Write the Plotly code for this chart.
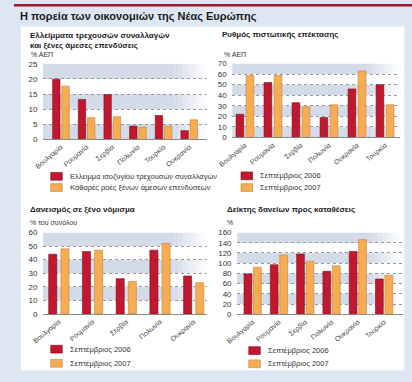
import plotly.graph_objects as go

# ---------------- data ----------------
tl_countries = ["Βουλγαρία", "Ρουμανία", "Σερβία", "Πολωνία", "Τουρκία", "Ουκρανία"]
tl_deficit = [19.9, 13.2, 14.8, 4.4, 7.9, 2.9]
tl_fdi = [17.6, 7.2, 7.5, 4.1, 4.4, 6.5]
tl_names = ["Ελλειμμα ισοζυγίου τρεχουσών συναλλαγών", "Καθαρές ροές ξένων άμεσων επενδύσεων"]

tr_countries = ["Βουλγαρία", "Ρουμανία", "Σερβία", "Πολωνία", "Ουκρανία", "Τουρκία"]
tr_2006 = [22, 52, 33, 19, 46, 50]
tr_2007 = [59, 59, 29, 31, 63, 31]

bl_countries = ["Βουλγαρία", "Ρουμανία", "Σερβία", "Πολωνία", "Ουκρανία"]
bl_2006 = [44, 46, 26, 47, 28]
bl_2007 = [48, 47, 24, 52, 23]

br_countries = ["Βουλγαρία", "Ρουμανία", "Σερβία", "Πολωνία", "Ουκρανία", "Τουρκία"]
br_2006 = [79, 97, 118, 84, 123, 69]
br_2007 = [92, 116, 104, 95, 146, 76]

year_names = ["Σεπτέμβριος 2006", "Σεπτέμβριος 2007"]

RED = "#c2182f"
ORANGE = "#f8ac52"
RED_EDGE = "#7a0f1c"
ORANGE_EDGE = "#c0823a"
FONT = "Liberation Sans, Arial, sans-serif"
W, H = 412, 382


def px_x(p):
    return p / W


def px_y(p):
    return 1 - p / H


fig = go.Figure()

# axis geometry (pixel based) + legend placement
panels = [
    dict(sfx="", cats=tl_countries, s1=tl_deficit, s2=tl_fdi, names=tl_names,
         x0=30, x1=200, y0=138.7, y1=61.2, yr=[0, 25], dt=5, xr=[-0.7, 5.7], bargap=0.28,
         leg=(38, 176.5, 188)),
    dict(sfx="2", cats=tr_countries, s1=tr_2006, s2=tr_2007, names=year_names,
         x0=226, x1=400, y0=136.7, y1=61.0, yr=[0, 70], dt=10, xr=[-0.45, 5.55], bargap=0.31,
         leg=(235, 176, 188)),
    dict(sfx="3", cats=bl_countries, s1=bl_2006, s2=bl_2007, names=year_names,
         x0=30, x1=200, y0=317.5, y1=234.0, yr=[0, 60], dt=10, xr=[-0.47, 4.4], bargap=0.4,
         leg=(38, 353.5, 368)),
    dict(sfx="4", cats=br_countries, s1=br_2006, s2=br_2007, names=year_names,
         x0=231, x1=403, y0=317.8, y1=234.0, yr=[0, 160], dt=20, xr=[-0.59, 5.73], bargap=0.26,
         leg=(243, 355, 368.5)),
]

layout_axes = {}
shapes = []
annotations = []

# white panel background
shapes.append(dict(type="rect", xref="paper", yref="paper", x0=px_x(7), x1=px_x(404), y0=px_y(375), y1=px_y(23),
                   fillcolor="white", line=dict(width=0), layer="below"))
# thin red top line
shapes.append(dict(type="rect", xref="paper", yref="paper", x0=0, x1=1, y0=px_y(2.5), y1=1,
                   fillcolor="#9b1b2c", line=dict(width=0), layer="below"))


def ann(text, x, y, size=8, bold=False, color="#222"):
    return dict(text=("<b>%s</b>" % text) if bold else text, x=px_x(x), y=px_y(y), xref="paper", yref="paper",
                xanchor="left", yanchor="middle", showarrow=False, font=dict(size=size, color=color, family=FONT))


for p in panels:
    sfx = p["sfx"]
    n = len(p["cats"])
    for vals, name, col, edge in ((p["s1"], p["names"][0], RED, RED_EDGE), (p["s2"], p["names"][1], ORANGE, ORANGE_EDGE)):
        fig.add_trace(go.Bar(x=list(range(n)), y=vals, name=name, showlegend=False,
                             width=(1 - p["bargap"]) / 2 * 0.8,
                             marker=dict(color=col, line=dict(color=edge, width=0.6)),
                             xaxis="x" + sfx, yaxis="y" + sfx))
    layout_axes["xaxis" + sfx] = dict(domain=[px_x(p["x0"]), px_x(p["x1"])], anchor="y" + sfx, range=p["xr"],
                                      tickmode="array", tickvals=list(range(n)), ticktext=p["cats"],
                                      tickangle=-40, tickfont=dict(size=7, color="#444", family=FONT),
                                      showgrid=False, showline=True, linecolor="#8a8a8a", linewidth=1,
                                      ticks="", zeroline=False, fixedrange=True)
    tickvals = list(range(p["yr"][0], p["yr"][1] + 1, p["dt"]))
    layout_axes["yaxis" + sfx] = dict(domain=[px_y(p["y0"]), px_y(p["y1"])], anchor="x" + sfx, range=p["yr"],
                                      tickvals=tickvals, tickfont=dict(size=8, color="#333", family=FONT),
                                      showgrid=True, gridcolor="#9a9a9a", griddash="dot", gridwidth=1,
                                      showline=False, zeroline=False, ticks="outside", ticklen=3,
                                      tickcolor="rgba(0,0,0,0)", fixedrange=True)
    # shaded bands (alternating from the top), fading at the right end
    nb = len(tickvals) - 1
    xref = "x" + sfx + " domain"
    yref = "y" + sfx
    for k in range(nb):
        if k % 2 == 0:
            top = tickvals[-1 - k]
            bot = tickvals[-2 - k]
            shapes.append(dict(type="rect", xref=xref, yref=yref, x0=0, x1=0.8, y0=bot, y1=top,
                               fillcolor="#d3dbe8", line=dict(width=0), layer="below"))
            steps = 8
            for s in range(steps):
                shapes.append(dict(type="rect", xref=xref, yref=yref, x0=0.8 + 0.2 * s / steps,
                                   x1=0.8 + 0.2 * (s + 1) / steps, y0=bot, y1=top,
                                   fillcolor="#d3dbe8", opacity=1 - (s + 0.5) / steps,
                                   line=dict(width=0), layer="below"))
    # legend: swatches + labels
    lx, ly1, ly2 = p["leg"]
    for yy, name, col, edge in ((ly1, p["names"][0], RED, RED_EDGE), (ly2, p["names"][1], ORANGE, ORANGE_EDGE)):
        shapes.append(dict(type="rect", xref="paper", yref="paper", x0=px_x(lx), x1=px_x(lx + 12),
                           y0=px_y(yy + 4), y1=px_y(yy - 4), fillcolor=col, line=dict(color=edge, width=0.6)))
        annotations.append(ann(name, lx + 18, yy, size=7.5, color="#333"))

annotations += [
    ann("Η πορεία των οικονομιών της Νέας Ευρώπης", 4, 13, size=11, bold=True, color="#1a1a1a"),
    ann("Ελλείμματα τρεχουσών συναλλαγών", 14, 32, size=8, bold=True),
    ann("και ξένες άμεσες επενδύσεις", 14, 42, size=8, bold=True),
    ann("% ΑΕΠ", 16, 52, size=7, color="#333"),
    ann("Ρυθμός πιστωτικής επέκτασης", 213, 31, size=8, bold=True),
    ann("% ΑΕΠ", 215, 52, size=7, color="#333"),
    ann("Δανεισμός σε ξένο νόμισμα", 14, 210, size=8, bold=True),
    ann("% του συνόλου", 15, 224, size=7, color="#333"),
    ann("Δείκτης δανείων προς καταθέσεις", 218, 210, size=8, bold=True),
    ann("%", 218, 224, size=7, color="#333"),
]

fig.update_layout(
    width=W, height=H, margin=dict(l=0, r=0, t=0, b=0),
    paper_bgcolor="#dde7f3", plot_bgcolor="rgba(0,0,0,0)",
    barmode="group", bargap=0.28, bargroupgap=0.2,
    showlegend=False,
    shapes=shapes, annotations=annotations,
    font=dict(family=FONT),
    **layout_axes,
)

fig.write_html("out.html", config={"displayModeBar": False},
               post_script="document.body.style.margin='0';")
